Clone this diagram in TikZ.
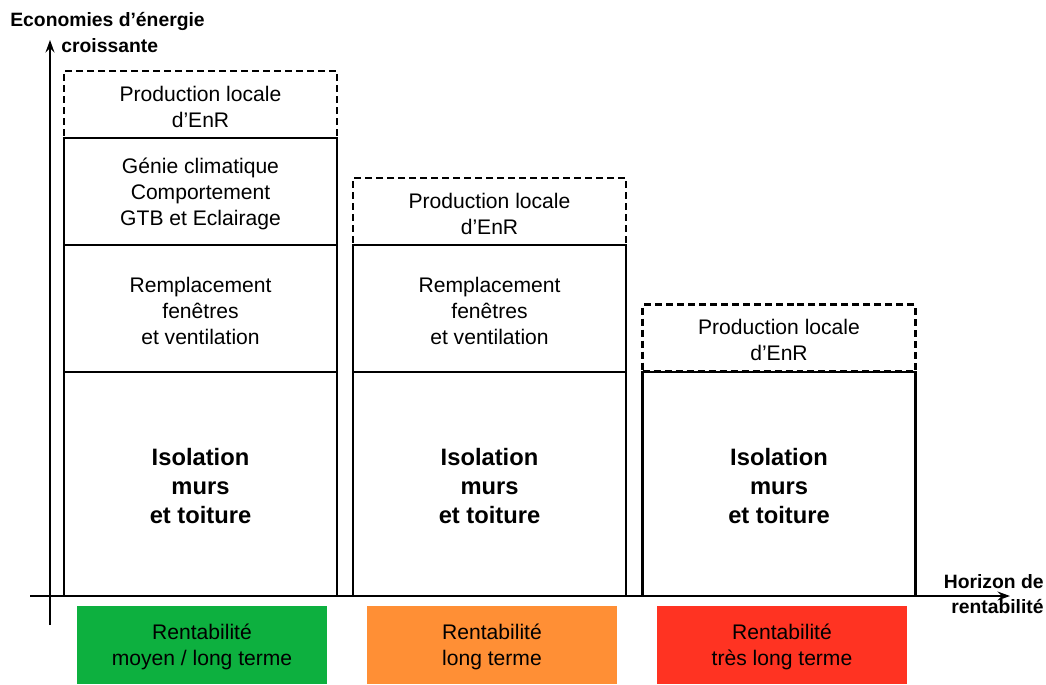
\documentclass[tikz,border=0pt]{standalone}
\usepackage{fontspec}
\setmainfont{Liberation Sans}
\usepackage{xcolor}
\usepackage{tikz}
\usetikzlibrary{arrows.meta,positioning,calc}
\definecolor{courtterme}{HTML}{0DB03F}
\definecolor{longterme}{HTML}{FF8F35}
\definecolor{treslong}{HTML}{FF3322}

\begin{document}
\begin{tikzpicture}[x=0.02cm, y=-0.02cm,
    every node/.style={font=\fontsize{12}{14.8}\selectfont, align=center, inner sep=0pt},
    gainbox/.style={draw, line width=1.2pt, minimum width=5.46cm},
    enrbox/.style={gainbox, dash pattern=on 0.14cm off 0.08cm},
    payoff/.style={fill=#1, minimum width=5cm, minimum height=1.56cm, text depth=0pt}]
    \useasboundingbox (0,0) rectangle (1046,684);

    % Axes
    \coordinate (y-bas) at (50,625);
    \coordinate (y-haut) at (50,40);
    \coordinate (x-gauche) at (30,596);
    \coordinate (x-droite) at (1010,596);
    \draw[line width=1.2pt, -{Stealth[length=7pt,width=5pt]}] (y-bas) -- (y-haut);
    \draw[line width=1.2pt, -{Stealth[length=7pt,width=5pt]}] (x-gauche) -- (x-droite);
    \node[font=\fontsize{11}{12.5}\selectfont\bfseries, anchor=north west] (ylabel) at (10,12) {Economies d'énergie};
    \node[font=\fontsize{11}{12.5}\selectfont\bfseries, anchor=north west] (ylabel2) at (61,38) {croissante};
    \node[font=\fontsize{11}{12.5}\selectfont\bfseries, anchor=north east, align=right] (xlabel) at (1044,574) {Horizon de\\[2pt]rentabilité};

    % Colonne 1
    \node[gainbox, minimum height=4.48cm] (isol-1) at (200.5,484) {};
    \node[gainbox, minimum height=2.54cm] (fen-1) at (200.5,308.5) {};
    \node[gainbox, minimum height=2.14cm] (gen-1) at (200.5,191.5) {};
    \node[enrbox, minimum height=1.34cm] (enr-1) at (200.5,104.5) {};
    % Colonne 2
    \node[gainbox, minimum height=4.48cm] (isol-2) at (489.5,484) {};
    \node[gainbox, minimum height=2.54cm] (fen-2) at (489.5,308.5) {};
    \node[enrbox, minimum height=1.34cm] (enr-2) at (489.5,211.5) {};
    % Colonne 3
    \node[gainbox, minimum height=4.48cm] (isol-3) at (779,484) {};
    \node[enrbox, minimum height=1.34cm] (enr-3) at (779,338) {};

    % Textes
    \foreach \c in {1,2,3} {
      \node[font=\fontsize{13.5}{16.5}\selectfont\bfseries] at ($(isol-\c)+(0,2)$) {Isolation\\murs\\et toiture};
      \node at ($(enr-\c)+(0,2)$) {Production locale\\d'EnR};
    }
    \foreach \c in {1,2} {
      \node at ($(fen-\c)+(0,2)$) {Remplacement\\fenêtres\\et ventilation};
    }
    \node at ($(gen-1)+(0,2)$) {Génie climatique\\Comportement\\GTB et Eclairage};

    % Rentabilite
    \node[payoff=courtterme] (rent-1) at (202,645) {Rentabilité\\moyen / long terme};
    \node[payoff=longterme] (rent-2) at (492,645) {Rentabilité\\long terme};
    \node[payoff=treslong] (rent-3) at (782,645) {Rentabilité\\très long terme};
  \end{tikzpicture}
\end{document}
